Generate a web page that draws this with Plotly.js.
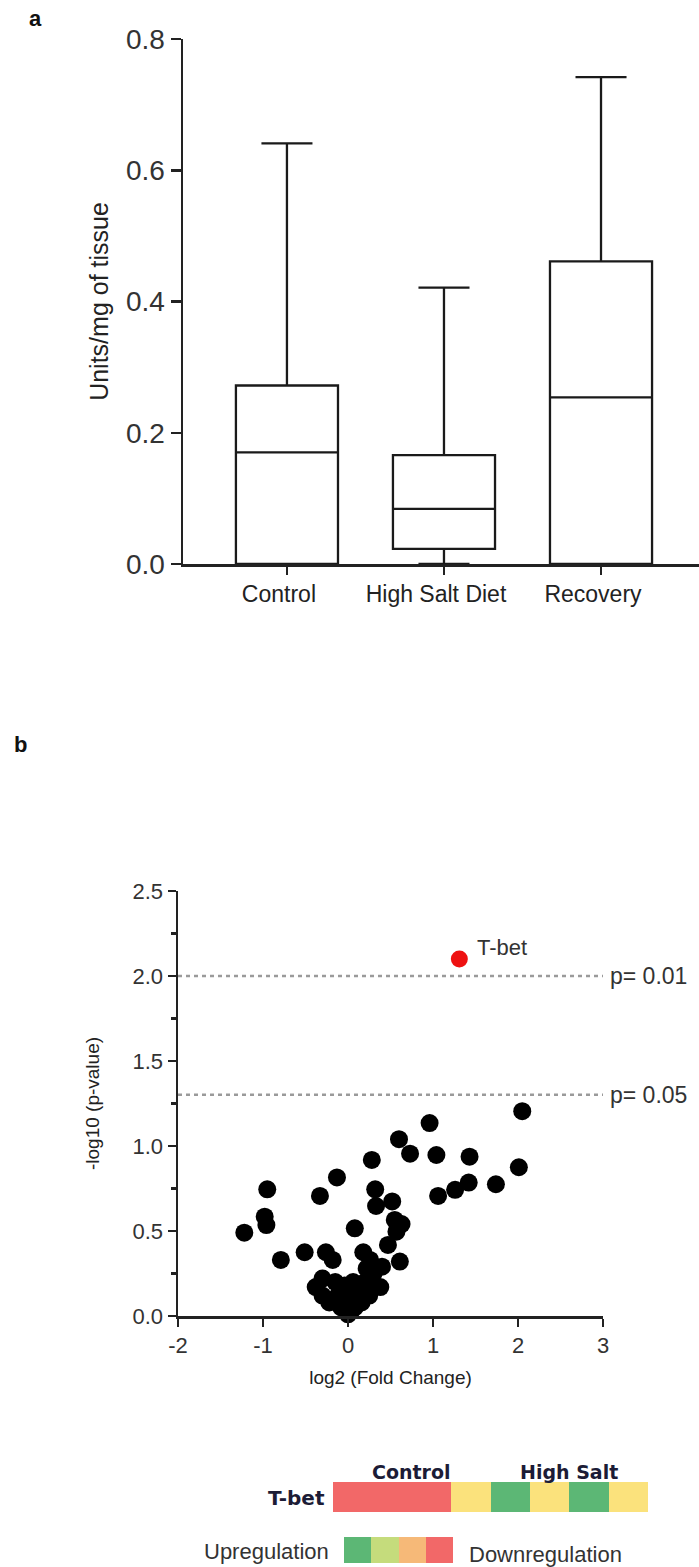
<!DOCTYPE html>
<html>
<head>
<meta charset="utf-8">
<script src="https://cdn.plot.ly/plotly-3.0.1.min.js"></script>
<style>html,body{margin:0;padding:0;background:#fff;}#chart{width:699px;height:1567px;}</style>
</head>
<body>
<div id="chart"></div>
<script>
// ---------- Panel a: box plot data ----------
const boxCategories = ['Control', 'High Salt Diet', 'Recovery'];
const boxLowerFence = [0.0, 0.0, 0.0];
const boxQ1 = [0.0, 0.023, 0.0];
const boxMedian = [0.170, 0.084, 0.254];
const boxQ3 = [0.272, 0.166, 0.461];
const boxUpperFence = [0.641, 0.421, 0.742];
const boxYTicks = [0.0, 0.2, 0.4, 0.6, 0.8];

// ---------- Panel b: volcano plot data ----------
const volcanoLog2FC = [
  2.05, 0.96, 0.60, 0.73, 1.04, 1.43, 0.28, 2.01, -0.13, 1.74,
  1.42, 1.26, 1.06, -0.95, -0.33, 0.32, 0.52, 0.33, -0.98, -0.96,
  -1.22, 0.08, 0.55, 0.63, 0.57, 0.47, 0.61, -0.79, -0.51, -0.26,
  -0.18, 0.18, 0.26, 0.40, -0.38, -0.30, -0.30, -0.22, -0.15, -0.12,
  -0.08, -0.04, 0.00, 0.02, 0.06, 0.08, 0.12, 0.16, 0.20, 0.25,
  0.30, 0.38, 0.30, 0.22, -0.05, 0.04
];
const volcanoNegLogP = [
  1.205, 1.135, 1.040, 0.955, 0.947, 0.937, 0.918, 0.875, 0.815, 0.775,
  0.785, 0.742, 0.706, 0.745, 0.706, 0.745, 0.674, 0.647, 0.584, 0.535,
  0.490, 0.516, 0.565, 0.541, 0.496, 0.418, 0.320, 0.330, 0.375, 0.375,
  0.330, 0.375, 0.330, 0.290, 0.170, 0.220, 0.120, 0.080, 0.200, 0.120,
  0.050, 0.180, 0.010, 0.100, 0.200, 0.050, 0.140, 0.080, 0.200, 0.120,
  0.250, 0.170, 0.180, 0.280, 0.090, 0.030
];
const highlightGene = 'T-bet';
const highlightLog2FC = [1.31];
const highlightNegLogP = [2.10];
const pThresholds = [0.01, 0.05];
const pThresholdLabels = ['p= 0.01', 'p= 0.05'];
const volcanoXTickVals = [-2, -1, 0, 1, 2, 3];
const volcanoXTickText = ['-2', '-1', '0', '1', '2', '3'];

// ---------- Heat strip data ----------
const heatGroups = ['Control', 'High Salt'];
const heatRowLabel = 'T-bet';
const heatValues = [-2, -2, -2, 0, 2, 0, 2, 0];
const legendValues = [2, 1, -1, -2];
const legendLow = 'Upregulation';
const legendHigh = 'Downregulation';

// ---------- layout helpers ----------
const W = 699, H = 1567;
const fx = p => p / W;
const fy = p => 1 - p / H;
const FONT = 'Liberation Sans, Arial, sans-serif';
const BOLD = 'DejaVu Sans, Verdana, sans-serif';
const AX = '#222';
const TXT = '#333';
const NAVY = '#1c1c36';

const RED = '#f26868', ORANGE = '#f6b978', YELLOW = '#fbe27c', LGREEN = '#c5dc7c', GREEN = '#5cb775';
const heatScale = [
  [0, RED], [0.2, RED], [0.2, ORANGE], [0.4, ORANGE], [0.4, YELLOW], [0.6, YELLOW],
  [0.6, LGREEN], [0.8, LGREEN], [0.8, GREEN], [1, GREEN]
];

const traces = [
  {
    type: 'box', x: boxCategories, q1: boxQ1, median: boxMedian, q3: boxQ3,
    lowerfence: boxLowerFence, upperfence: boxUpperFence,
    boxpoints: false, width: 0.65, whiskerwidth: 0.5,
    fillcolor: '#ffffff', line: {color: '#1a1a1a', width: 2.3},
    xaxis: 'x', yaxis: 'y', showlegend: false, hoverinfo: 'skip'
  },
  {
    type: 'scatter', mode: 'markers', x: volcanoLog2FC, y: volcanoNegLogP,
    marker: {color: '#000', size: 18, line: {width: 0}},
    xaxis: 'x2', yaxis: 'y2', showlegend: false, hoverinfo: 'skip', cliponaxis: false
  },
  {
    type: 'scatter', mode: 'markers', x: highlightLog2FC, y: highlightNegLogP,
    marker: {color: '#ee1111', size: 17, line: {width: 0}},
    xaxis: 'x2', yaxis: 'y2', showlegend: false, hoverinfo: 'skip', cliponaxis: false
  },
  {
    type: 'heatmap', z: [heatValues], colorscale: heatScale, zmin: -2.5, zmax: 2.5,
    showscale: false, xaxis: 'x3', yaxis: 'y3', hoverinfo: 'skip', xgap: 0, ygap: 0
  },
  {
    type: 'heatmap', z: [legendValues], colorscale: heatScale, zmin: -2.5, zmax: 2.5,
    showscale: false, xaxis: 'x4', yaxis: 'y4', hoverinfo: 'skip'
  }
];

const hidden = {visible: false, fixedrange: true};

const shapes = pThresholds.map(p => ({
  type: 'line', xref: 'x2', yref: 'y2', x0: -2, x1: 3,
  y0: -Math.log10(p), y1: -Math.log10(p),
  line: {color: '#9a9a9a', width: 2.5, dash: '4px,4px'}
}));

const annotations = [
  {text: '<b>a</b>', xref: 'paper', yref: 'paper', x: fx(35), y: fy(18), showarrow: false,
   font: {family: FONT, size: 22, color: '#111'}, xanchor: 'center', yanchor: 'middle'},
  {text: '<b>b</b>', xref: 'paper', yref: 'paper', x: fx(20), y: fy(745), showarrow: false,
   font: {family: FONT, size: 22, color: '#111'}, xanchor: 'center', yanchor: 'middle'},
  {text: highlightGene, xref: 'x2', yref: 'y2', x: highlightLog2FC[0], y: highlightNegLogP[0],
   showarrow: false, xanchor: 'left', yanchor: 'middle', xshift: 16, yshift: 12,
   font: {family: FONT, size: 22, color: TXT}},
  ...pThresholds.map((p, i) => ({
    text: pThresholdLabels[i], xref: 'x2', yref: 'y2', x: 3, y: -Math.log10(p),
    showarrow: false, xanchor: 'left', yanchor: 'middle', xshift: 5,
    font: {family: FONT, size: 23, color: TXT}
  })),
  ...heatGroups.map((g, i) => ({
    text: '<b>' + g + '</b>', xref: 'x3', yref: 'paper', x: 1.5 + 4 * i, y: fy(1472),
    showarrow: false, xanchor: 'center', yanchor: 'middle',
    font: {family: BOLD, size: 19, color: NAVY}
  })),
  {text: '<b>' + heatRowLabel + '</b>', xref: 'paper', yref: 'paper', x: fx(327), y: fy(1498),
   showarrow: false, xanchor: 'right', yanchor: 'middle', font: {family: BOLD, size: 20, color: NAVY}},
  {text: legendLow, xref: 'paper', yref: 'paper', x: fx(331), y: fy(1551),
   showarrow: false, xanchor: 'right', yanchor: 'middle', font: {family: FONT, size: 22, color: TXT}},
  {text: legendHigh, xref: 'paper', yref: 'paper', x: fx(467), y: fy(1554),
   showarrow: false, xanchor: 'left', yanchor: 'middle', font: {family: FONT, size: 22, color: TXT}}
];

const layout = {
  width: W, height: H,
  margin: {l: 0, r: 0, t: 0, b: 0, pad: 0},
  paper_bgcolor: '#fff', plot_bgcolor: 'rgba(0,0,0,0)',
  showlegend: false, hovermode: false,
  xaxis: {
    domain: [fx(183), 1], range: [-0.662, 2.624], type: 'category', anchor: 'y',
    showline: true, linecolor: AX, linewidth: 2.5, showgrid: false, zeroline: false,
    ticks: 'outside', ticklen: 8, tickwidth: 2.5, tickcolor: AX, ticklabelshift: -8,
    tickfont: {family: FONT, size: 23, color: '#222'}, automargin: false, fixedrange: true
  },
  yaxis: {
    domain: [fy(564), fy(39)], range: [0, 0.8], anchor: 'x',
    showline: true, linecolor: AX, linewidth: 2.5, showgrid: false, zeroline: false,
    tickvals: boxYTicks, tickformat: '.1f',
    ticks: 'outside', ticklen: 10, tickwidth: 2.5, tickcolor: AX,
    tickfont: {family: FONT, size: 28, color: TXT},
    title: {text: 'Units/mg of tissue', font: {family: FONT, size: 25, color: '#222'}, standoff: 10},
    automargin: false, fixedrange: true
  },
  xaxis2: {
    domain: [fx(178), fx(603)], range: [-2, 3], anchor: 'y2',
    showline: true, linecolor: AX, linewidth: 2.5, showgrid: false, zeroline: false,
    tickvals: volcanoXTickVals, ticktext: volcanoXTickText,
    ticks: 'outside', ticklen: 8, tickwidth: 2.5, tickcolor: AX,
    tickfont: {family: FONT, size: 22, color: TXT},
    title: {text: 'log2 (Fold Change)', font: {family: FONT, size: 19, color: '#222'}, standoff: 14},
    automargin: false, fixedrange: true
  },
  yaxis2: {
    domain: [fy(1316), fy(891)], range: [0, 2.5], anchor: 'x2',
    showline: true, linecolor: AX, linewidth: 2.5, showgrid: false, zeroline: false,
    dtick: 0.5, tick0: 0, tickformat: '.1f',
    ticks: 'outside', ticklen: 8, tickwidth: 2.5, tickcolor: AX,
    minor: {dtick: 0.25, tick0: 0, ticks: 'outside', ticklen: 5, tickwidth: 2.5, tickcolor: AX, showgrid: false},
    tickfont: {family: FONT, size: 22, color: TXT},
    title: {text: '-log10 (p-value)', font: {family: FONT, size: 19, color: '#222'}, standoff: 28},
    automargin: false, fixedrange: true
  },
  xaxis3: Object.assign({domain: [fx(333), fx(648)], range: [-0.5, 7.5], anchor: 'y3'}, hidden),
  yaxis3: Object.assign({domain: [fy(1512), fy(1482)], range: [-0.5, 0.5], anchor: 'x3'}, hidden),
  xaxis4: Object.assign({domain: [fx(344), fx(453)], range: [-0.5, 3.5], anchor: 'y4'}, hidden),
  yaxis4: Object.assign({domain: [fy(1563), fy(1537)], range: [-0.5, 0.5], anchor: 'x4'}, hidden),
  shapes: shapes,
  annotations: annotations
};

Plotly.newPlot('chart', traces, layout, {staticPlot: true, displayModeBar: false});
</script>
</body>
</html>
